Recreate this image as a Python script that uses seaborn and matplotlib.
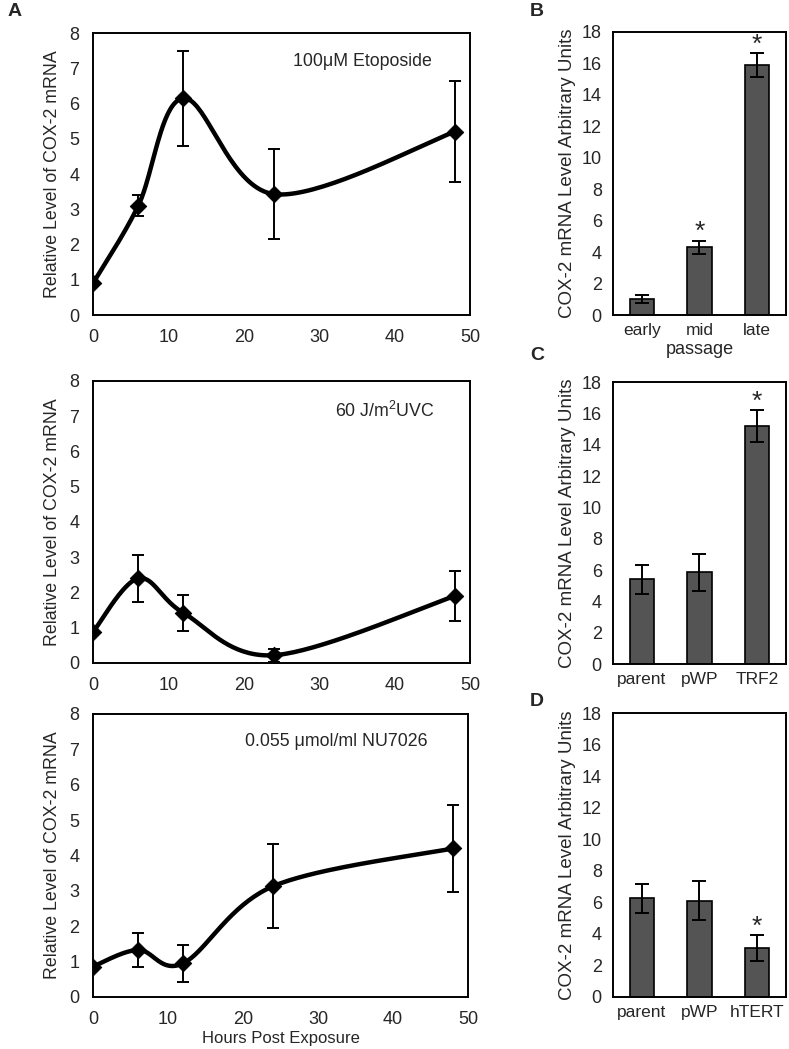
import numpy as np
import seaborn as sns
import matplotlib
matplotlib.use("Agg")
import matplotlib.pyplot as plt

# ---- datos ----
horas = [0, 6, 12, 24, 48]

etoposido = [0.9, 3.1, 6.15, 3.43, 5.2]
etoposido_err = [0.0, 0.3, 1.35, 1.28, 1.43]

uvc = [0.88, 2.4, 1.42, 0.22, 1.9]
uvc_err = [0.0, 0.67, 0.5, 0.18, 0.7]

nu7026 = [0.86, 1.33, 0.95, 3.13, 4.2]
nu7026_err = [0.0, 0.47, 0.52, 1.18, 1.22]

cat_b = ["early", "mid", "late"]
val_b = [1.0, 4.3, 15.9]
err_b = [0.25, 0.43, 0.77]
sig_b = [False, True, True]

cat_c = ["parent", "pWP", "TRF2"]
val_c = [5.4, 5.85, 15.2]
err_c = [0.9, 1.17, 1.02]
sig_c = [False, False, True]

cat_d = ["parent", "pWP", "hTERT"]
val_d = [6.25, 6.1, 3.1]
err_d = [0.9, 1.25, 0.8]
sig_d = [False, False, True]

sns.set_style("white")
plt.rcParams["font.family"] = ["Liberation Sans", "DejaVu Sans"]
plt.rcParams["mathtext.fontset"] = "custom"
plt.rcParams["mathtext.rm"] = "Liberation Sans"


def suavizar(x, y, n=40):
    # curva suavizada tipo Excel (Bezier con tangentes Catmull-Rom)
    p = np.column_stack([x, y]).astype(float)
    p = np.vstack([p[0], p, p[-1]])
    xs, ys = [], []
    t = np.linspace(0, 1, n)
    for i in range(1, len(p) - 2):
        p0, p3 = p[i], p[i + 1]
        c1 = p0 + (p[i + 1] - p[i - 1]) / 6
        c2 = p3 - (p[i + 2] - p[i]) / 6
        seg = ((1 - t) ** 3)[:, None] * p0 + (3 * (1 - t) ** 2 * t)[:, None] * c1 \
            + (3 * (1 - t) * t ** 2)[:, None] * c2 + (t ** 3)[:, None] * p3
        xs.extend(seg[:, 0])
        ys.extend(seg[:, 1])
    return np.array(xs), np.array(ys)


fig = plt.figure(figsize=(7.89, 10.49), dpi=100)

ylab_a = "Relative Level of COX-2 mRNA"
ylab_b = "COX-2 mRNA Level Arbitrary Units"


def panel_linea(pos, y, err, texto, tx, ty, xlabel=None):
    ax = fig.add_axes(pos)
    sx, sy = suavizar(horas, y)
    sns.lineplot(x=sx, y=sy, ax=ax, color="black", lw=3.2, sort=False, estimator=None)
    ax.errorbar(horas, y, yerr=err, fmt="none", ecolor="black", elinewidth=1.4,
                capsize=4, capthick=1.4)
    sns.scatterplot(x=horas, y=y, ax=ax, marker="D", s=70, color="black",
                    edgecolor="black", zorder=5)
    ax.set_xlim(0, 50)
    ax.set_ylim(0, 8)
    ax.set_xticks(range(0, 51, 10))
    ax.set_yticks(range(0, 9))
    ax.tick_params(length=0, labelsize=13, pad=10)
    ax.set_ylabel(ylab_a, fontsize=12.8, labelpad=6)
    if xlabel:
        ax.set_xlabel(xlabel, fontsize=12, labelpad=2)
    for s in ax.spines.values():
        s.set_linewidth(1.4)
        s.set_color("black")
    ax.text(tx, ty, texto, transform=ax.transAxes, ha="right", va="center", fontsize=12.8)
    return ax


def panel_barra(pos, cats, vals, errs, sig, xlabel=None):
    ax = fig.add_axes(pos)
    sns.barplot(x=cats, y=vals, ax=ax, color="#545454", edgecolor="black",
                linewidth=1.2, width=0.42, saturation=1)
    ax.errorbar(range(len(cats)), vals, yerr=errs, fmt="none", ecolor="black",
                elinewidth=1.4, capsize=5, capthick=1.4)
    for i, (v, e, s) in enumerate(zip(vals, errs, sig)):
        if s:
            ax.annotate("*", (i, v + e), xytext=(0, 1), textcoords="offset points",
                        ha="center", va="baseline", fontsize=19)
    ax.set_xlim(-0.5, 2.5)
    ax.set_ylim(0, 18)
    ax.set_yticks(range(0, 19, 2))
    ax.tick_params(axis="x", length=0, labelsize=12.5, pad=6)
    ax.tick_params(axis="y", length=0, labelsize=13, pad=8)
    ax.set_ylabel(ylab_b, fontsize=13.5, labelpad=4)
    if xlabel:
        ax.set_xlabel(xlabel, fontsize=13, labelpad=2)
    for s in ax.spines.values():
        s.set_linewidth(1.4)
        s.set_color("black")
    return ax


panel_linea([0.1179, 0.6997, 0.4778, 0.2688], etoposido, etoposido_err,
            "100\u03bcM Etoposide", 0.90, 0.898)
panel_linea([0.1179, 0.3680, 0.4778, 0.2688], uvc, uvc_err,
            "60 J/m$^{2}$UVC", 0.907, 0.895)
panel_linea([0.1179, 0.0496, 0.4753, 0.2698], nu7026, nu7026_err,
            "0.055 \u03bcmol/ml NU7026", 0.893, 0.902, xlabel="Hours Post Exposure")

panel_barra([0.7769, 0.6997, 0.2193, 0.2698], cat_b, val_b, err_b, sig_b, xlabel="passage")
panel_barra([0.7769, 0.3670, 0.2193, 0.2688], cat_c, val_c, err_c, sig_c)
panel_barra([0.7769, 0.0496, 0.2193, 0.2707], cat_d, val_d, err_d, sig_d)

for letra, x, y in [("A", 8, 12), ("B", 530, 12), ("C", 530, 356), ("D", 530, 702)]:
    fig.text(x / 789, 1 - y / 1049, letra, fontsize=14, fontweight="bold",
             ha="left", va="center")

fig.savefig("out.png", dpi=100)
